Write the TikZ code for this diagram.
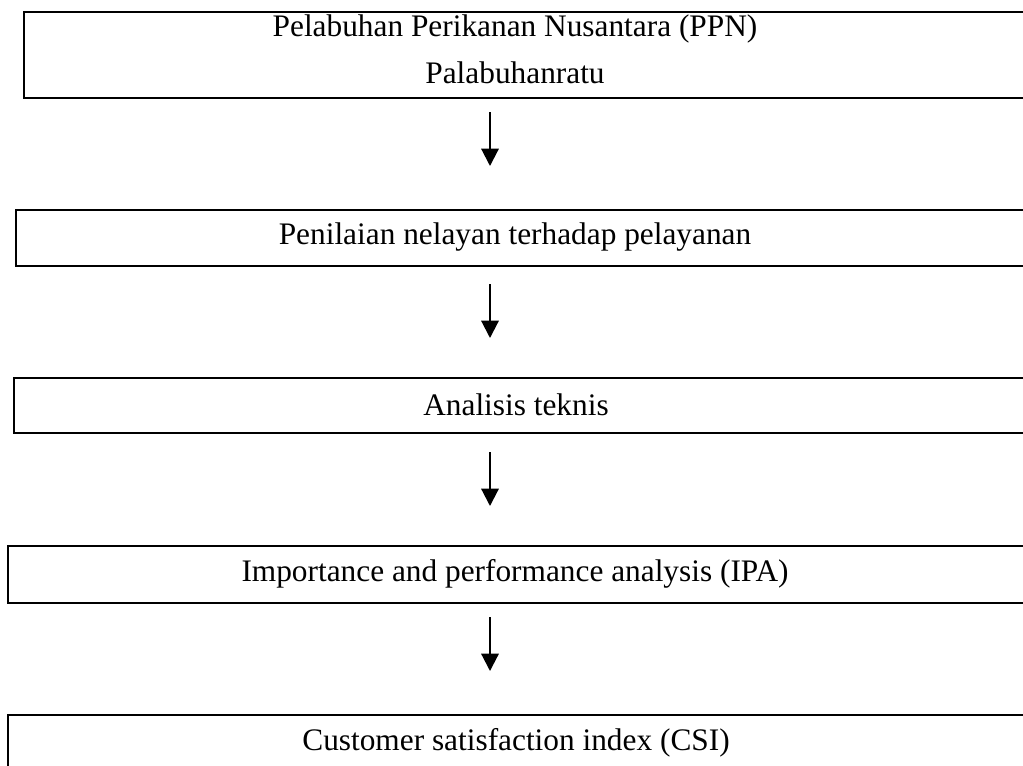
\documentclass[tikz,border=0pt]{standalone}
\usepackage{fontspec}
\setmainfont{Liberation Serif}
\usetikzlibrary{arrows.meta}
\begin{document}
\begin{tikzpicture}[x=0.75pt,y=-0.75pt,
  box/.style={draw,line width=1.5pt,rectangle,anchor=north west,inner sep=0pt,minimum width=810pt},
  txt/.style={font=\fontsize{23.5}{28}\selectfont,inner sep=0pt,align=center},
  flow/.style={line width=1.6pt,-{Triangle[width=13pt,length=13pt]}}]
\useasboundingbox (0,0) rectangle (1023,765);
\clip (0,0) rectangle (1023,765);
\fill[white] (0,0) rectangle (1023,765);
% boxes
\node[box,minimum height=64.5pt] (b1) at (23,11) {};
\node[box,minimum height=42pt] (b2) at (15,209) {};
\node[box,minimum height=41.25pt] (b3) at (13,377) {};
\node[box,minimum height=42.75pt] (b4) at (7,545) {};
\node[box,minimum height=80pt] (b5) at (7,714) {};
% texts
\node[txt] (t1a) at (515,29) {Pelabuhan Perikanan Nusantara (PPN)};
\node[txt] (t1b) at (515,73) {Palabuhanratu};
\node[txt] (t2) at (515,237) {Penilaian nelayan terhadap pelayanan};
\node[txt] (t3) at (516,405) {Analisis teknis};
\node[txt] (t4) at (515,574) {Importance and performance analysis (IPA)};
\node[txt] (t5) at (516,743) {Customer satisfaction index (CSI)};
% arrows
\coordinate (a1s) at (490,112); \coordinate (a1e) at (490,166);
\coordinate (a2s) at (490,284); \coordinate (a2e) at (490,338);
\coordinate (a3s) at (490,452); \coordinate (a3e) at (490,506);
\coordinate (a4s) at (490,617); \coordinate (a4e) at (490,671);
\draw[flow] (a1s) -- (a1e);
\draw[flow] (a2s) -- (a2e);
\draw[flow] (a3s) -- (a3e);
\draw[flow] (a4s) -- (a4e);
\end{tikzpicture}
\end{document}
